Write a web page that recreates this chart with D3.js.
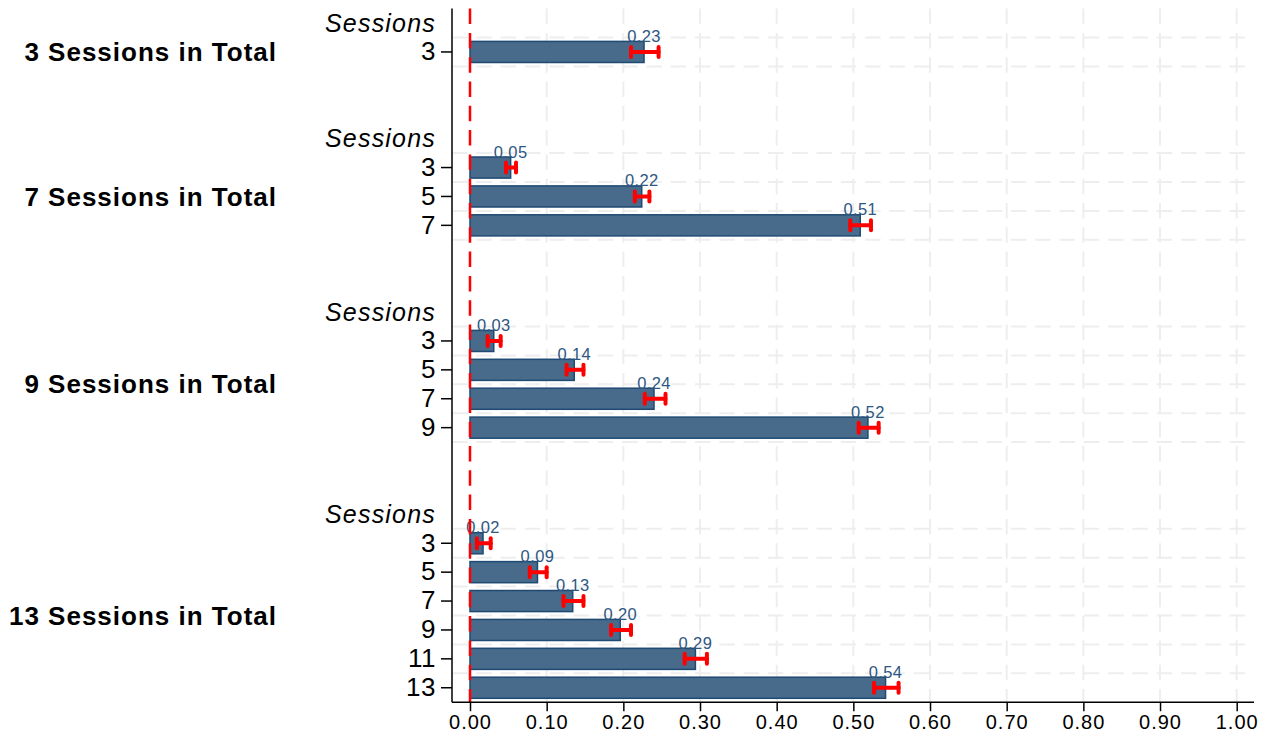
<!DOCTYPE html>
<html>
<head>
<meta charset="utf-8">
<script src="https://cdn.jsdelivr.net/npm/d3@7"></script>
<style>
  body { margin: 0; background: #fff; }
  text { font-family: "Liberation Sans", Arial, Helvetica, sans-serif; }
</style>
</head>
<body>
<svg id="chart" width="1278" height="747"></svg>
<script>
// values
const groups = ["3 Sessions in Total", "7 Sessions in Total", "9 Sessions in Total", "13 Sessions in Total"];
const sessions = [[3], [3, 5, 7], [3, 5, 7, 9], [3, 5, 7, 9, 11, 13]];
const means = [[0.227], [0.053, 0.224, 0.509], [0.031, 0.136, 0.240, 0.519], [0.017, 0.088, 0.134, 0.196, 0.294, 0.542]];
const lower = [[0.210], [0.047, 0.215, 0.496], [0.023, 0.126, 0.228, 0.507], [0.009, 0.078, 0.122, 0.184, 0.280, 0.527]];
const upper = [[0.246], [0.060, 0.234, 0.523], [0.040, 0.148, 0.255, 0.533], [0.027, 0.100, 0.148, 0.210, 0.309, 0.559]];
const xTicks = [0, 0.1, 0.2, 0.3, 0.4, 0.5, 0.6, 0.7, 0.8, 0.9, 1.0];
const headerLabel = "Sessions";

const svg = d3.select("svg#chart");
const font = '"Liberation Sans", Arial, Helvetica, sans-serif';

// plot area
const plot = { left: 452, right: 1254, top: 8.6, bottom: 702.2 };

// build the row slots: header, bars, then two empty rows between groups
const slots = [];
const rows = [];
groups.forEach((g, gi) => {
  slots.push("h" + gi);
  sessions[gi].forEach((s, si) => {
    const key = "b" + gi + "_" + si;
    slots.push(key);
    rows.push({ key: key, g: gi, s: s, m: means[gi][si], lo: lower[gi][si], hi: upper[gi][si] });
  });
  if (gi < groups.length - 1) {
    slots.push("e" + gi + "a");
    slots.push("e" + gi + "b");
  }
});

//scale functions
const xScale = d3.scaleLinear().domain([0, 1]).range([470, 1236.7]);
const yScale = d3
  .scaleBand()
  .domain(slots)
  .range([plot.top, plot.bottom])
  .paddingInner(0.27)
  .paddingOuter(0.135);
const step = yScale.step();
const mid = k => yScale(k) + yScale.bandwidth() / 2;

// gridlines
const grid = svg.append("g")
  .attr("stroke", "#eeeeee")
  .attr("stroke-width", 2)
  .attr("stroke-dasharray", "15.5 8.8");

grid.selectAll("line.v")
  .data(xTicks.filter(d => d > 0))
  .enter()
  .append("line")
  .attr("class", "v")
  .attr("x1", d => xScale(d))
  .attr("x2", d => xScale(d))
  .attr("y1", plot.top)
  .attr("y2", plot.bottom);

const hLines = [];
rows.forEach(r => {
  hLines.push(mid(r.key) - step / 2);
  hLines.push(mid(r.key) + step / 2);
});
grid.selectAll("line.h")
  .data(Array.from(new Set(hLines.map(v => v.toFixed(2)))).map(Number).filter(v => v < plot.bottom - 1))
  .enter()
  .append("line")
  .attr("class", "h")
  .attr("x1", plot.left)
  .attr("x2", plot.right)
  .attr("y1", d => d)
  .attr("y2", d => d);

// bars
svg.append("g")
  .selectAll("rect")
  .data(rows)
  .enter()
  .append("rect")
  .attr("x", xScale(0))
  .attr("y", d => yScale(d.key))
  .attr("width", d => xScale(d.m) - xScale(0))
  .attr("height", yScale.bandwidth())
  .attr("fill", "#486a8b")
  .attr("stroke", "#1f4a73")
  .attr("stroke-width", 1.5);

// error bars
const err = svg.append("g")
  .attr("stroke", "#ff0000")
  .attr("stroke-width", 4)
  .attr("stroke-linecap", "round");

err.selectAll("line.ci")
  .data(rows)
  .enter()
  .append("line")
  .attr("class", "ci")
  .attr("x1", d => xScale(d.lo))
  .attr("x2", d => xScale(d.hi))
  .attr("y1", d => mid(d.key))
  .attr("y2", d => mid(d.key));

["lo", "hi"].forEach(end => {
  err.selectAll("line.cap" + end)
    .data(rows)
    .enter()
    .append("line")
    .attr("class", "cap" + end)
    .attr("x1", d => xScale(d[end]))
    .attr("x2", d => xScale(d[end]))
    .attr("y1", d => mid(d.key) - 5)
    .attr("y2", d => mid(d.key) + 5);
});

// value labels
svg.append("g")
  .selectAll("text")
  .data(rows)
  .enter()
  .append("text")
  .attr("x", d => xScale(d.m))
  .attr("y", d => yScale(d.key) + 0.5)
  .attr("text-anchor", "middle")
  .attr("fill", "#2e5782")
  .style("font-size", "16.5px")
  .style("letter-spacing", "0.4px")
  .text(d => d3.format(".2f")(d.m));

// zero reference line
svg.append("line")
  .attr("x1", xScale(0))
  .attr("x2", xScale(0))
  .attr("y1", plot.top)
  .attr("y2", plot.bottom)
  .attr("stroke", "#ff0000")
  .attr("stroke-width", 2.5)
  .attr("stroke-dasharray", "15.5 8.8");

// y axis
const yAxis = svg.append("g")
  .attr("transform", `translate(${plot.left},0)`)
  .call(
    d3.axisLeft(yScale)
      .tickValues(rows.map(r => r.key))
      .tickFormat(k => rows.find(r => r.key === k).s)
      .tickSize(11)
      .tickSizeOuter(0)
      .tickPadding(5)
  );
yAxis.select(".domain").attr("d", `M0,${plot.top}V${plot.bottom}`).attr("stroke-width", 1.5);
yAxis.selectAll(".tick line").attr("stroke-width", 1.5);
yAxis.selectAll(".tick text")
  .attr("fill", "#000")
  .style("font-family", font)
  .style("font-size", "26px")
  .style("letter-spacing", "0.5px");

// "Sessions" headers
svg.append("g")
  .selectAll("text")
  .data(groups.map((g, gi) => "h" + gi))
  .enter()
  .append("text")
  .attr("x", plot.left - 16)
  .attr("y", d => mid(d))
  .attr("dy", "0.35em")
  .attr("text-anchor", "end")
  .style("font-size", "25px")
  .style("font-style", "italic")
  .style("letter-spacing", "1.2px")
  .text(headerLabel);

// group labels
svg.append("g")
  .selectAll("text")
  .data(groups)
  .enter()
  .append("text")
  .attr("x", 277)
  .attr("y", (d, gi) => d3.mean(rows.filter(r => r.g === gi), r => mid(r.key)))
  .attr("dy", "0.35em")
  .attr("text-anchor", "end")
  .style("font-size", "26px")
  .style("font-weight", "bold")
  .style("letter-spacing", "1px")
  .text(d => d);

// x axis
const xAxis = svg.append("g")
  .attr("transform", `translate(0,${plot.bottom})`)
  .call(
    d3.axisBottom(xScale)
      .tickValues(xTicks)
      .tickFormat(d3.format(".2f"))
      .tickSize(9)
      .tickPadding(4)
  );
xAxis.select(".domain").attr("d", `M${plot.left},0H${plot.right}`).attr("stroke-width", 1.5);
xAxis.selectAll(".tick line").attr("stroke-width", 1.5);
xAxis.selectAll(".tick text")
  .attr("fill", "#000")
  .style("font-family", font)
  .style("font-size", "20px")
  .style("letter-spacing", "1px");
</script>
</body>
</html>
